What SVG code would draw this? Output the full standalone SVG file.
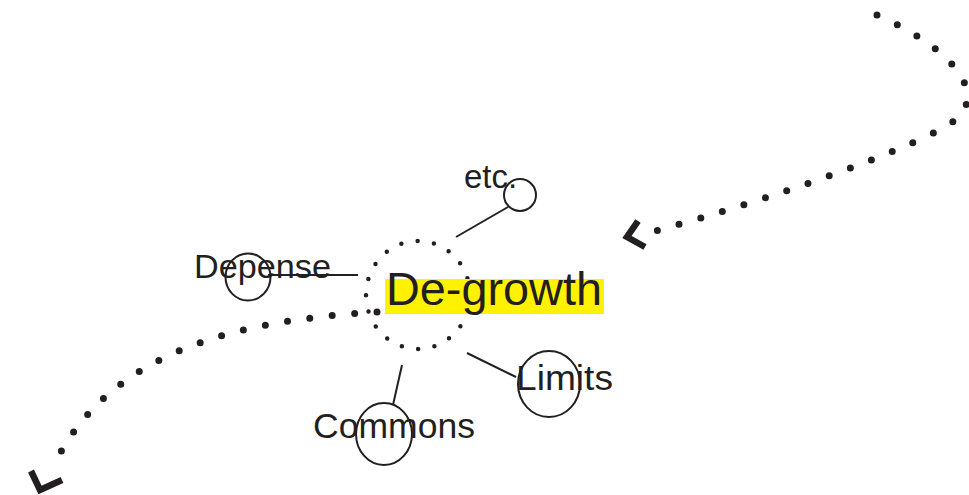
<svg xmlns="http://www.w3.org/2000/svg" width="969" height="495" viewBox="0 0 969 495">
<style>
.txt{font-family:"Liberation Sans",Arial,sans-serif;fill:#231f20}
.ring{fill:none;stroke:#231f20;stroke-width:2}
.link{stroke:#231f20;stroke-width:2;fill:none}
.flow{fill:none;stroke:#231f20;stroke-width:7;stroke-linecap:round;stroke-dasharray:0 22.5}
.head{fill:none;stroke:#231f20;stroke-width:6.5;stroke-linejoin:miter;stroke-linecap:butt}
.dots{fill:none;stroke:#231f20;stroke-width:4.5;stroke-linecap:round;stroke-dasharray:0 16.6}
</style>
<rect width="969" height="495" fill="#fff"/>
<g id="connectors">
<path class="flow" d="M877,15 C935,40 990,85 958,118 C925,145 770,200 648,233"/>
<polyline class="head" points="638,221 627,237 645,247"/>
<path class="flow" d="M377,312 C250,320 110,345 52,469"/>
<polyline class="head" points="31,471 40,490 62,480"/>
<line class="link" x1="508" y1="207" x2="456" y2="237"/>
<line class="link" x1="268" y1="275" x2="358" y2="275"/>
<line class="link" x1="467" y1="353" x2="516" y2="377"/>
<line class="link" x1="402" y1="365" x2="393" y2="405"/>
</g>
<g id="degrowth">
<ellipse class="dots" cx="418" cy="295" rx="52" ry="54"/>
<rect x="385" y="279" width="219" height="35" fill="#fff200"/>
<text class="txt" x="386" y="305" font-size="46" textLength="216" lengthAdjust="spacingAndGlyphs">De-growth</text>
</g>
<g id="etc">
<circle class="ring" cx="520" cy="195" r="16"/>
<text class="txt" x="464" y="188" font-size="33">etc.</text>
</g>
<g id="depense">
<ellipse class="ring" cx="248" cy="277" rx="22.5" ry="23.5"/>
<text class="txt" x="194" y="278" font-size="34" textLength="137" lengthAdjust="spacingAndGlyphs">Depense</text>
</g>
<g id="limits">
<ellipse class="ring" cx="549" cy="384" rx="31" ry="33"/>
<text class="txt" x="516" y="390" font-size="35" textLength="97" lengthAdjust="spacingAndGlyphs">Limits</text>
</g>
<g id="commons">
<ellipse class="ring" cx="384" cy="434" rx="28" ry="31"/>
<text class="txt" x="313" y="438" font-size="35" textLength="162" lengthAdjust="spacingAndGlyphs">Commons</text>
</g>
</svg>
